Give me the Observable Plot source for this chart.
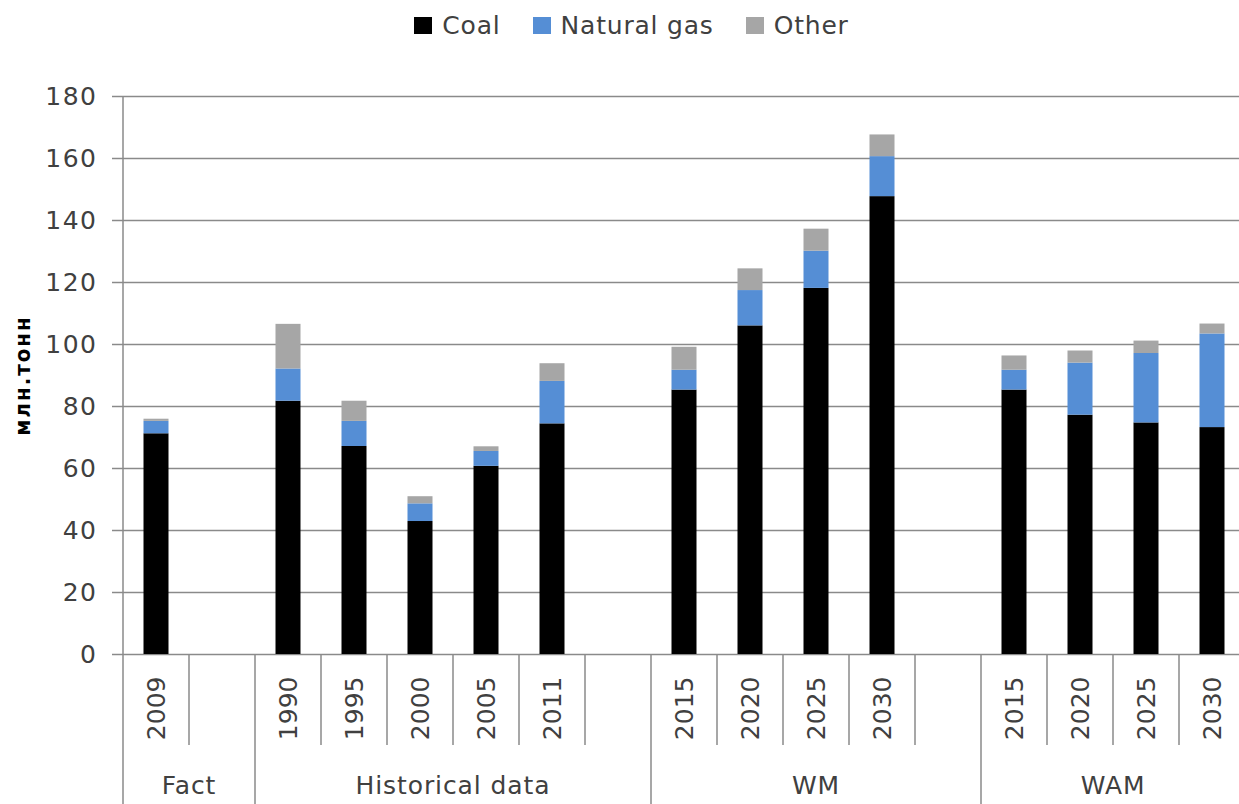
<!DOCTYPE html>
<html>
<head>
<meta charset="utf-8">
<script src="https://cdn.jsdelivr.net/npm/d3@7"></script>
<script src="https://cdn.jsdelivr.net/npm/@observablehq/plot@0.6"></script>
<style>
  body { margin: 0; background: #fff; }
  #legend { height: 50px; display: flex; justify-content: center; align-items: center; padding-left: 24px; box-sizing: border-box;
            font-family: "DejaVu Sans", sans-serif; font-size: 25px; letter-spacing: 0.8px; color: #404040; }
  #legend .item { display: flex; align-items: center; margin: 0 16px; }
  #legend .sw { width: 18px; height: 17px; margin-right: 10px; }
  g[aria-label="y-axis tick label"] text { font-family: "DejaVu Sans", sans-serif; font-size: 25px; letter-spacing: 1.5px; fill: #404040; }
  g[aria-label="x-axis tick label"] text { font-family: "DejaVu Sans", sans-serif; font-size: 25px; fill: #404040; }
  g[aria-label="y-axis label"] text { font-family: "DejaVu Sans Condensed", "DejaVu Sans", sans-serif; font-size: 22px; font-weight: bold; letter-spacing: 2px; fill: #000; }
  .grp text { font-family: "DejaVu Sans", sans-serif; font-size: 25px; letter-spacing: 0.9px; fill: #404040; }
</style>
</head>
<body>
<div id="legend"></div>
<div id="chart"></div>
<script>
// ---- data ----
const groups = ["Fact","Fact","Historical data","Historical data","Historical data","Historical data","Historical data","Historical data","WM","WM","WM","WM","WM","WAM","WAM","WAM","WAM"];
const years  = ["2009","","1990","1995","2000","2005","2011","","2015","2020","2025","2030","","2015","2020","2025","2030"];
const coal   = [71.2, null, 81.7, 67.1, 42.9, 60.7, 74.4, null, 85.3, 106.0, 118.1, 147.7, null, 85.3, 77.2, 74.7, 73.2];
const gas    = [4.0,  null, 10.4, 8.1,  5.7,  4.8,  13.7, null, 6.4,  11.4,  12.0,  12.9,  null, 6.4,  16.8, 22.4, 30.2];
const other  = [0.7,  null, 14.4, 6.5,  2.3,  1.5,  5.7,  null, 7.4,  7.0,   7.1,   7.0,   null, 4.6,  3.9,  4.0,  3.2];
const seriesNames  = ["Coal", "Natural gas", "Other"];
const seriesColors = ["#000000", "#558ed5", "#a6a6a6"];
const yTicks = [0, 20, 40, 60, 80, 100, 120, 140, 160, 180];
const yLabel = "млн.тонн";

// ---- table ----
const slots = years.map((_, i) => String(i));
const seriesValues = [coal, gas, other];
const rows = [];
seriesNames.forEach((s, k) => {
  seriesValues[k].forEach((v, i) => { if (v != null) rows.push({slot: slots[i], series: s, value: v}); });
});

// ---- legend ----
const legend = d3.select("#legend");
seriesNames.forEach((s, k) => {
  const it = legend.append("div").attr("class", "item");
  it.append("div").attr("class", "sw").style("background", seriesColors[k]);
  it.append("span").text(s);
});

// ---- chart ----
const H = 754;
const chart = Plot.plot({
  width: 1239,
  height: H,
  marginTop: 46,
  marginBottom: 150,
  marginLeft: 123,
  marginRight: -6,
  style: { background: "#fff", overflow: "hidden" },
  x: { domain: slots, padding: 0 },
  y: { domain: [0, 180] },
  color: { domain: seriesNames, range: seriesColors },
  marks: [
    Plot.gridY(yTicks, { stroke: "#8a8a8a", strokeOpacity: 1, strokeWidth: 1.5 }),
    Plot.barY(rows, { x: "slot", y: "value", fill: "series", order: seriesNames, insetLeft: 20.5, insetRight: 20.5 }),
    Plot.axisY(yTicks, { tickSize: 11, tickPadding: 15, stroke: "#8a8a8a", strokeWidth: 1.5,
      label: yLabel, labelAnchor: "center", labelArrow: "none", labelOffset: 109 }),
    Plot.axisX({ tickSize: 0, tickRotate: -90, tickPadding: 22, tickFormat: d => years[+d], label: null })
  ]
});
document.getElementById("chart").appendChild(chart);

// ---- multi-level category separators and group labels, from Plot's scales ----
(function () {
  const xs = chart.scale("x"), ys = chart.scale("y");
  const bw = xs.bandwidth;
  const y0 = ys.apply(0), yTop = ys.apply(180);
  const svg = d3.select(chart);
  const gl = svg.append("g").attr("stroke", "#8a8a8a").attr("stroke-width", 1.5);
  slots.forEach((s, i) => {
    const x0 = xs.apply(s);
    const groupStart = i === 0 || groups[i] !== groups[i - 1];
    gl.append("line").attr("x1", x0).attr("x2", x0)
      .attr("y1", i === 0 ? yTop : y0)
      .attr("y2", groupStart ? H : y0 + 91);
  });
  const gg = svg.append("g").attr("class", "grp");
  const uniq = [...new Set(groups)];
  uniq.forEach(name => {
    const first = groups.indexOf(name), last = groups.lastIndexOf(name);
    const cx = (xs.apply(slots[first]) + xs.apply(slots[last]) + bw) / 2;
    gg.append("text").attr("x", cx).attr("y", y0 + 133).attr("text-anchor", "middle")
      .attr("dominant-baseline", "middle").text(name);
  });
})();
</script>
</body>
</html>
